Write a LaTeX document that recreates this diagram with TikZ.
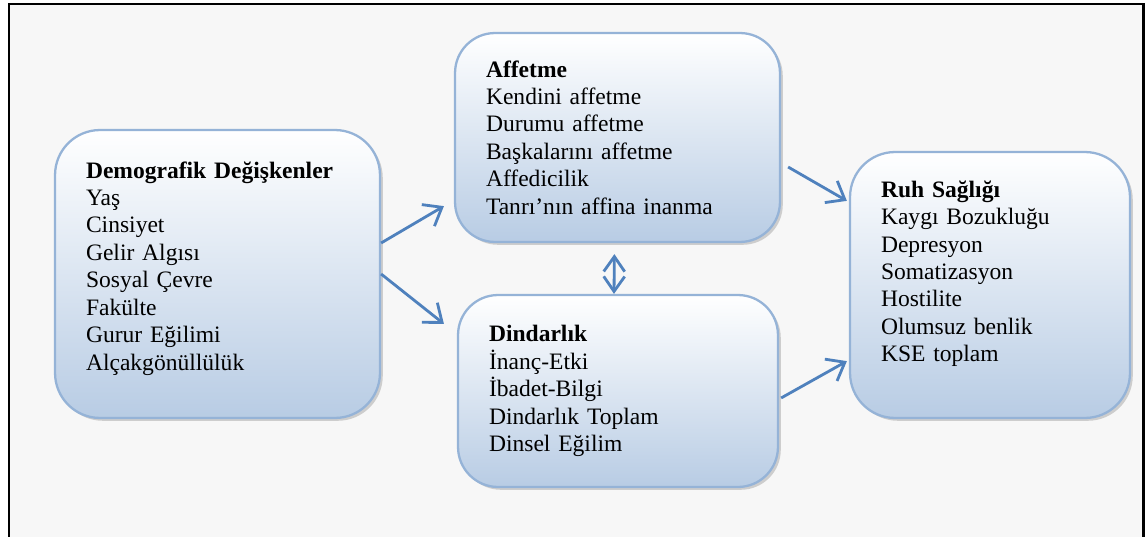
\documentclass[tikz,border=0pt]{standalone}
\usepackage{fontspec}
\setmainfont{Liberation Serif}
\usetikzlibrary{shadows, arrows.meta}
\definecolor{boxline}{RGB}{149,179,215}
\definecolor{boxbottom}{RGB}{184,204,228}
\definecolor{linkcol}{RGB}{79,129,189}
\definecolor{paper}{RGB}{247,247,247}
\tikzstyle{factor} = [rectangle, rounded corners=0.9cm, draw=boxline, line width=1.3pt, top color=white, bottom color=boxbottom, inner xsep=0.62cm, align=left, font=\fontsize{13.4}{15.6}\selectfont, drop shadow={shadow xshift=1.6pt, shadow yshift=-1.6pt, opacity=0.35}]
\tikzstyle{link} = [line width=1.6pt, draw=linkcol, -{Straight Barb[length=0.32cm, width=0.5cm]}]

\begin{document}
\begin{tikzpicture}[x=0.02cm, y=-0.02cm]
    \useasboundingbox (0,0) rectangle (1146,537);
    \fill[paper] (9,4) rectangle (1143,545);
    \draw[black, line width=1.7pt] (9,545) -- (9,4) -- (1143,4) -- (1143,545);

    \node (demo) [factor, text width=5.26cm, minimum height=5.76cm] at (217.5,274)
        {\textbf{Demografik Değişkenler}\\Yaş\\Cinsiyet\\Gelir Algısı\\Sosyal Çevre\\Fakülte\\Gurur Eğilimi\\Alçakgönüllülük\\[-0.22cm]\mbox{}};
    \node (aff) [factor, text width=5.26cm, minimum height=4.18cm, rounded corners=0.8cm] at (617.5,137.5)
        {\textbf{Affetme}\\Kendini affetme\\Durumu affetme\\Başkalarını affetme\\Affedicilik\\Tanrı’nın affina inanma};
    \node (din) [factor, text width=5.16cm, minimum height=3.84cm, rounded corners=0.8cm] at (618,391)
        {\textbf{Dindarlık}\\İnanç-Etki\\İbadet-Bilgi\\Dindarlık Toplam\\Dinsel Eğilim};
    \node (ruh) [factor, text width=4.36cm, minimum height=5.32cm] at (990,285)
        {\textbf{Ruh Sağlığı}\\Kaygı Bozukluğu\\Depresyon\\Somatizasyon\\Hostilite\\Olumsuz benlik\\KSE toplam\\[0.0cm]\mbox{}};

    \draw [link] ([yshift=0.62cm]demo.east) -- ([xshift=-0.2cm, yshift=0.74cm]aff.south west);
    \draw [link] (demo.east) -- ([xshift=-0.26cm, yshift=-0.6cm]din.north west);
    \draw [link] ([xshift=0.14cm, yshift=-0.59cm]aff.east) -- ([xshift=-0.04cm, yshift=-1.0cm]ruh.north west);
    \draw [link] ([xshift=0.04cm, yshift=-0.14cm]din.east) -- ([xshift=-0.04cm, yshift=1.16cm]ruh.south west);
    \draw [link, {Straight Barb[length=0.3cm, width=0.42cm]}-{Straight Barb[length=0.3cm, width=0.42cm]}, shorten <=0.22cm] ([xshift=-0.06cm]aff.south) -- ([xshift=-0.08cm]din.north);
\end{tikzpicture}
\end{document}
